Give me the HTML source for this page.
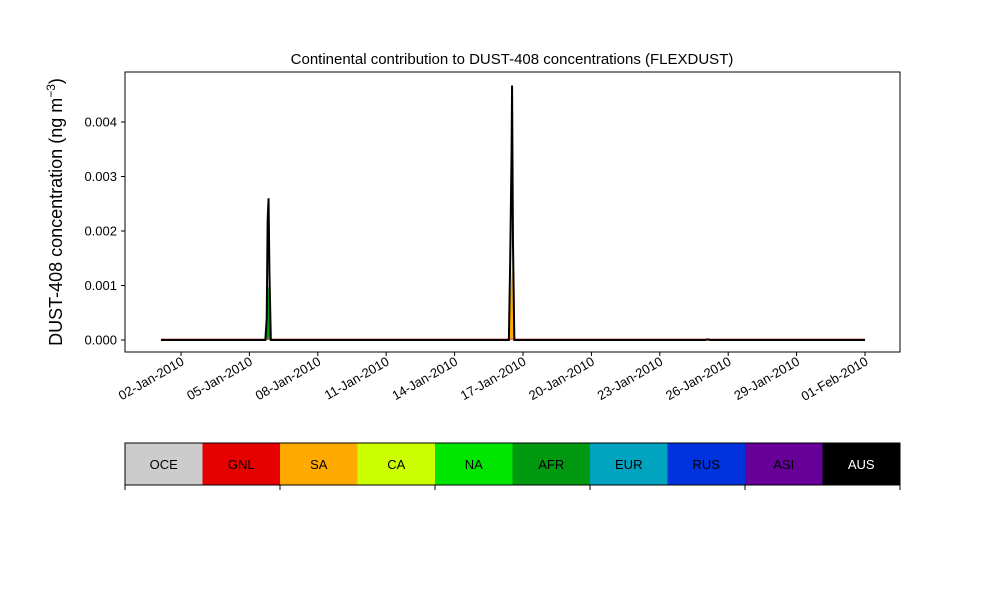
<!DOCTYPE html>
<html><head><meta charset="utf-8"><style>
body{margin:0;background:#fff;font-family:"Liberation Sans",sans-serif}
svg text{font-family:"Liberation Sans",sans-serif}
</style></head><body>
<svg id="c" width="1000" height="600">
<text x="512" y="64" font-size="15" text-anchor="middle">Continental contribution to DUST-408 concentrations (FLEXDUST)</text>
<text transform="translate(62,212) rotate(-90)" font-size="18" text-anchor="middle">DUST-408 concentration (ng m<tspan dy="-7" font-size="12">−3</tspan><tspan dy="7">)</tspan></text>
<g id="plot"></g>
<rect x="125" y="72" width="775" height="280" fill="none" stroke="#000" stroke-width="1"/>
<g id="legend"></g>
</svg>
<script>
const days = [1.12, 5.7, 5.76, 5.8, 5.84, 5.88, 5.94, 16.38, 16.44, 16.5, 16.52, 16.56, 16.62, 25.0, 25.1, 25.2, 32.0];
const totalVals = [0, 0, 0.0004, 0.0022, 0.0026, 0.0012, 0, 0, 0.0015, 0.0035, 0.00467, 0.0018, 0, 0, 0.00001, 0, 0];
const afrVals = [0, 0, 0.0002, 0.0009, 0.001, 0.0006, 0, 0, 0, 0, 0, 0, 0, 0, 0, 0, 0];
const saVals = [0, 0, 0, 0, 0, 0, 0, 0, 0.0008, 0.0012, 0.0014, 0.0006, 0, 0, 0, 0, 0];
const yTicks = [0, 0.001, 0.002, 0.003, 0.004];
const yTickLabels = ["0.000", "0.001", "0.002", "0.003", "0.004"];
const xTickDays = [2, 5, 8, 11, 14, 17, 20, 23, 26, 29, 32];
const xTickLabels = ["02-Jan-2010","05-Jan-2010","08-Jan-2010","11-Jan-2010","14-Jan-2010","17-Jan-2010","20-Jan-2010","23-Jan-2010","26-Jan-2010","29-Jan-2010","01-Feb-2010"];
const regions = ["OCE","GNL","SA","CA","NA","AFR","EUR","RUS","ASI","AUS"];
const regionColors = ["#cccccc","#e60000","#ffaa00","#ccff00","#00e600","#009910","#00a3bf","#0033dd","#660099","#000000"];

const NS = "http://www.w3.org/2000/svg";
const xS = d => 181 + (d - 2) * 22.8;
const yS = v => 340 - v * 54500;
const plot = document.getElementById('plot');
function mk(tag, attrs, parent) { const e = document.createElementNS(NS, tag); for (const k in attrs) e.setAttribute(k, attrs[k]); parent.appendChild(e); return e; }
function area(vals, color, name) {
  let d = "M" + xS(days[0]) + "," + yS(0);
  days.forEach((t, i) => d += " L" + xS(t) + "," + yS(vals[i]));
  d += " L" + xS(days[days.length - 1]) + "," + yS(0) + "Z";
  const p = mk('path', {d: d, fill: color, stroke: 'none'}, plot);
  
  
}
area(saVals, "#ffaa00", "sa-area");
area(afrVals, "#009910", "afr-area");
mk('line', {x1: xS(days[0]), x2: xS(days[days.length-1]), y1: yS(0)-1, y2: yS(0)-1, stroke: '#e06060', 'stroke-width': 1}, plot);
let ld = "";
days.forEach((t, i) => ld += (i ? " L" : "M") + xS(t) + "," + yS(totalVals[i]));
const line = mk('path', {d: ld, fill: 'none', stroke: '#000', 'stroke-width': 2}, plot);


yTicks.forEach((v, i) => {
  const y = yS(v);
  const t = mk('line', {x1: 121, x2: 125, y1: y, y2: y, stroke: '#000'}, plot);
  
  
  const tx = mk('text', {x: 117, y: y + 4.5, 'font-size': 13, 'text-anchor': 'end'}, plot);
  tx.textContent = yTickLabels[i];
  
  
});
xTickDays.forEach((d, i) => {
  const x = xS(d);
  const t = mk('line', {x1: x, x2: x, y1: 352, y2: 356, stroke: '#000'}, plot);
  
  
  const tx = mk('text', {x: x + 4, y: 364, 'font-size': 13, 'text-anchor': 'end', transform: `rotate(-30 ${x + 4} 364)`}, plot);
  tx.textContent = xTickLabels[i];
  
  
});
const lg = document.getElementById('legend');
const bw = 77.5;
regions.forEach((r, i) => {
  const x = 125 + i * bw;
  const rc = mk('rect', {x: x, y: 443, width: bw + 0.5, height: 42, fill: regionColors[i]}, lg);
  
  
  const tx = mk('text', {x: x + bw / 2, y: 469, 'font-size': 13, 'text-anchor': 'middle', fill: r === 'AUS' ? '#fff' : '#000'}, lg);
  tx.textContent = r;
  
  
});
mk('rect', {x: 125, y: 443, width: 775, height: 42, fill: 'none', stroke: '#000'}, lg);
for (let i = 0; i <= 5; i++) {
  const x = 125 + i * 155;
  const t = mk('line', {x1: x, x2: x, y1: 485, y2: 490, stroke: '#000'}, lg);
  
  
}
</script>
</body></html>
